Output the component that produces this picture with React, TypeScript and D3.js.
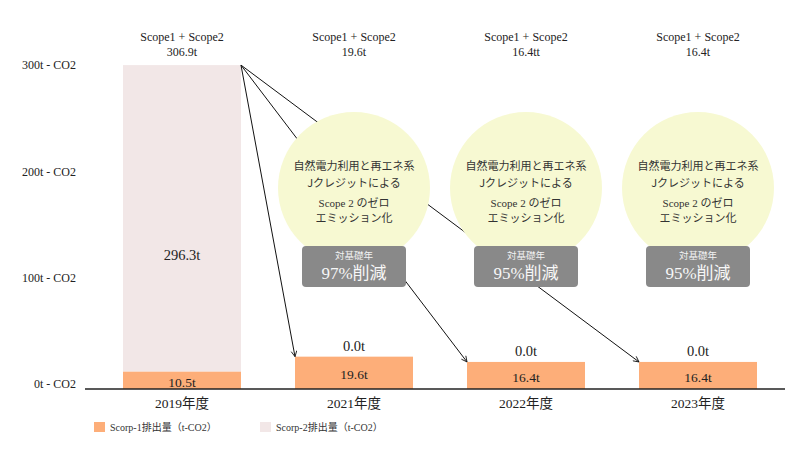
import React from "react";
import * as d3 from "d3";

const years = ["2019年度", "2021年度", "2022年度", "2023年度"];
const scope1 = [10.5, 19.6, 16.4, 16.4];
const scope2 = [296.3, 0.0, 0.0, 0.0];
const topLabels = ["306.9t", "19.6t", "16.4tt", "16.4t"];
const reductions = [null, "97%削減", "95%削減", "95%削減"];
const yTicks = [0, 100, 200, 300];
const circleLines1 = ["自然電力利用と再エネ系", "Jクレジットによる"];
const circleLines2 = ["Scope 2 のゼロ", "エミッション化"];
const legendItems = ["Scorp-1排出量（t-CO2）", "Scorp-2排出量（t-CO2）"];

const W = 804;
const H = 463;
const C1 = "#FDAE79";
const C2 = "#F2E7E7";
const SERIF = "DejaVu Serif, serif";
const SERIF2 = "Liberation Serif, Times New Roman, serif";
const SANSJP = "Noto Sans CJK JP, sans-serif";

export default function App() {
  const x = d3.scaleBand<string>().domain(years).range([96, 784]).paddingInner(0.314).paddingOuter(0.157);
  const bw = x.bandwidth();
  const y = d3.scaleLinear().domain([0, 20, 306.9]).range([389, 356, 65]);
  const yAxis = d3.scaleLinear().domain([0, 300]).range([384, 65]);
  const totals = scope1.map((v, i) => v + scope2[i]);

  const x0 = x(years[0])! + bw;
  const yTop0 = y(totals[0]);

  return (
    <svg width={W} height={H} style={{ position: "absolute", left: 0, top: 0, background: "#fff" }}>
      <defs>
        <marker id="arr" viewBox="0 0 10 10" refX="9" refY="5" markerWidth="7" markerHeight="7" orient="auto">
          <path d="M1,1 L9,5 L1,9" fill="none" stroke="#111" strokeWidth={1.2} />
        </marker>
      </defs>
      {yTicks.map((t) => (
        <text key={t} x={76} y={yAxis(t)} dy="0.35em" textAnchor="end" style={{ fontFamily: SERIF2 }} fontSize={12} fill="#222">
          {`${t}t - CO2`}
        </text>
      ))}
      {years.map((yr, i) => (
        <g key={yr}>
          <rect x={x(yr)} y={y(totals[i])} width={bw} height={y(scope1[i]) - y(totals[i])} fill={C2} />
          <rect x={x(yr)} y={y(scope1[i])} width={bw} height={y(0) - y(scope1[i])} fill={C1} />
        </g>
      ))}
      <line x1={85} x2={785} y1={y(0)} y2={y(0)} stroke="#222" strokeWidth={1.3} />
      {years.slice(1).map((yr, i) => (
        <line key={yr} x1={x0} y1={yTop0} x2={x(yr)!} y2={y(totals[i + 1])} stroke="#111" strokeWidth={1} markerEnd="url(#arr)" />
      ))}
      {years.map((yr, i) => {
        if (!reductions[i]) return null;
        const cx = x(yr)! + bw / 2;
        const cy = 188;
        return (
          <g key={yr}>
            <circle cx={cx} cy={cy} r={76} fill="#F7F9D2" />
            {circleLines1.map((s, k) => (
              <text key={k} x={cx} y={166 + k * 17} dy="0.35em" textAnchor="middle" style={{ fontFamily: SANSJP }} fontSize={11} fill="#333">{s}</text>
            ))}
            {circleLines2.map((s, k) => (
              <text key={k} x={cx} y={203 + k * 15} dy="0.35em" textAnchor="middle" style={{ fontFamily: SERIF2 + ", " + SANSJP }} fontSize={11} fill="#333">{s}</text>
            ))}
            <rect x={cx - 52} y={246} width={104} height={41} rx={4} fill="#898989" />
            <text x={cx} y={256} dy="0.35em" textAnchor="middle" style={{ fontFamily: SANSJP }} fontSize={9.5} fill="#f2f2f2">対基礎年</text>
            <text x={cx} y={273} dy="0.35em" textAnchor="middle" style={{ fontFamily: SERIF2 + ", " + SANSJP }} fontSize={17} fill="#f7f7f7">{reductions[i]}</text>
          </g>
        );
      })}
      {years.map((yr, i) => {
        const cx = x(yr)! + bw / 2;
        const s2y = scope2[i] > 0 ? y(scope1[i] + scope2[i] * 0.37) : y(totals[i]) - 11;
        return (
          <g key={yr} style={{ fontFamily: SERIF2 + ", " + SANSJP }} fill="#222" textAnchor="middle">
            <text x={cx} y={37} dy="0.35em" fontSize={12}>Scope1 + Scope2</text>
            <text x={cx} y={52} dy="0.35em" fontSize={12}>{topLabels[i]}</text>
            <text x={cx} y={s2y} dy="0.35em" fontSize={14.5}>{`${scope2[i].toFixed(1)}t`}</text>
            <text x={cx} y={(y(scope1[i]) + y(0)) / 2 + 1.5} dy="0.35em" fontSize={13.5}>{`${scope1[i].toFixed(1)}t`}</text>
            <text x={cx} y={403} dy="0.35em" fontSize={13.5}>{yr}</text>
          </g>
        );
      })}
      {legendItems.map((s, i) => (
        <g key={s} transform={`translate(${94 + i * 166},422)`}>
          <rect x={0} y={0} width={11} height={10} fill={i === 0 ? C1 : C2} />
          <text x={16} y={5} dy="0.35em" style={{ fontFamily: SERIF2 + ", " + SANSJP }} fontSize={10} fill="#333">{s}</text>
        </g>
      ))}
    </svg>
  );
}
